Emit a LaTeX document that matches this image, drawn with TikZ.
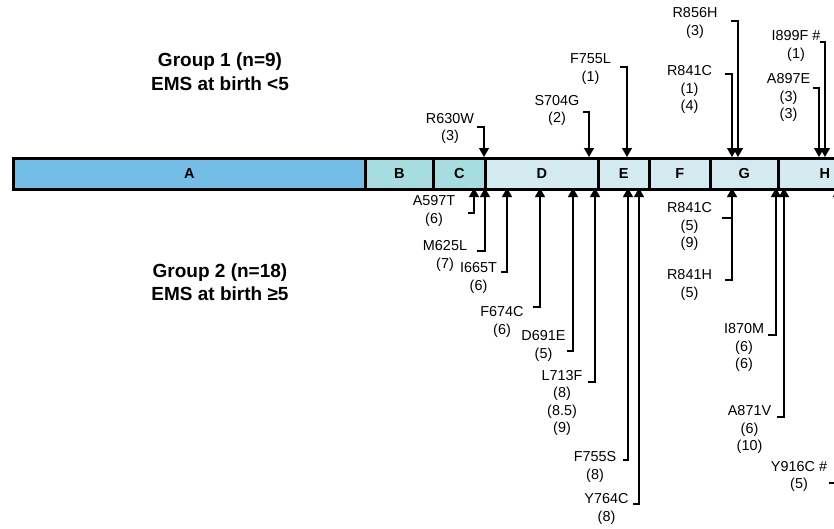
\documentclass[tikz,border=0pt]{standalone}
\usepackage{fontspec}
\setmainfont{Liberation Sans}
\usetikzlibrary{arrows.meta}
\definecolor{domA}{HTML}{74BDE6}
\definecolor{domB}{HTML}{A7DCE0}
\definecolor{domD}{HTML}{D3EBF0}
\begin{document}
\begin{tikzpicture}[x=1pt,y=-1pt,
  dom/.style={draw,line width=2.5pt,minimum height=31pt,anchor=north west,inner sep=0pt,
    font=\bfseries\fontsize{14.5}{17}\selectfont},
  mut/.style={align=center,inner sep=0pt,font=\fontsize{14.4}{17.5}\selectfont},
  grp/.style={align=center,font=\bfseries\fontsize{19}{23.5}\selectfont},
  pin/.style={line width=1.3pt,-{Triangle[length=9pt,width=10pt]}},
  tick/.style={line width=1.3pt}]
\useasboundingbox (0,0) rectangle (834,528);
\clip (0,0) rectangle (834,528);
\node[grp](g1) at (220,71.5){Group 1 (n=9)\\EMS at birth <5};
\node[grp](g2) at (220,282){Group 2 (n=18)\\EMS at birth ≥5};
\node[dom,fill=domA,minimum width=352pt](A) at (12,157){A};
\node[dom,fill=domB,minimum width=68pt](B) at (364,157){B};
\node[dom,fill=domB,minimum width=52pt](C) at (432,157){C};
\node[dom,fill=domD,minimum width=113pt](D) at (484,157){D};
\node[dom,fill=domD,minimum width=51pt](E) at (597,157){E};
\node[dom,fill=domD,minimum width=61pt](F) at (648,157){F};
\node[dom,fill=domD,minimum width=68pt](G) at (709,157){G};
\node[dom,fill=domD,minimum width=93pt](H) at (777,157){H};

\node[mut](l630) at (450,128.5){R630W\\(3)};
\coordinate (s630) at (477,127); \coordinate (t630) at (484,157);
\draw[pin] (s630) -| (t630);
\node[mut](l704) at (557,110.5){S704G\\(2)};
\coordinate (s704) at (583,112); \coordinate (t704) at (589,157);
\draw[pin] (s704) -| (t704);
\node[mut](l755l) at (590.5,69){F755L\\(1)};
\coordinate (s755l) at (620,67); \coordinate (t755l) at (627,157);
\draw[pin] (s755l) -| (t755l);
\node[mut](l856) at (695,23){R856H\\(3)};
\coordinate (s856) at (731,21); \coordinate (t856) at (738,157);
\draw[pin] (s856) -| (t856);
\node[mut](l841t) at (689.5,89.5){R841C\\(1)\\(4)};
\coordinate (s841t) at (725,74); \coordinate (t841t) at (732,157);
\draw[pin] (s841t) -| (t841t);
\node[mut](l899) at (796,46){I899F \#\\(1)};
\coordinate (s899) at (820,42); \coordinate (t899) at (825,157);
\draw[pin] (s899) -| (t899);
\node[mut](l897) at (788.5,97.5){A897E\\(3)\\(3)};
\coordinate (s897) at (813,88); \coordinate (t897) at (819,157);
\draw[pin] (s897) -| (t897);

\node[mut](l597) at (434,211){A597T\\(6)};
\coordinate (s597) at (468,213); \coordinate (t597) at (474,188);
\draw[pin] (s597) -| (t597);
\node[mut](l625) at (445,256){M625L\\(7)};
\coordinate (s625) at (477,251); \coordinate (t625) at (485,188);
\draw[pin] (s625) -| (t625);
\node[mut](l665) at (478.5,278){I665T\\(6)};
\coordinate (s665) at (501,272); \coordinate (t665) at (507,188);
\draw[pin] (s665) -| (t665);
\node[mut](l674) at (502,322){F674C\\(6)};
\coordinate (s674) at (533,307); \coordinate (t674) at (540,188);
\draw[pin] (s674) -| (t674);
\node[mut](l691) at (543.5,346){D691E\\(5)};
\coordinate (s691) at (567,351); \coordinate (t691) at (573,188);
\draw[pin] (s691) -| (t691);
\node[mut](l713) at (562,403){L713F\\(8)\\(8.5)\\(9)};
\coordinate (s713) at (588,382); \coordinate (t713) at (595,188);
\draw[pin] (s713) -| (t713);
\node[mut](l755s) at (595,467){F755S\\(8)};
\coordinate (s755s) at (623,460); \coordinate (t755s) at (628,188);
\draw[pin] (s755s) -| (t755s);
\node[mut](l764) at (606.5,509){Y764C\\(8)};
\coordinate (s764) at (633,504); \coordinate (t764) at (639,188);
\draw[pin] (s764) -| (t764);
\node[mut](l841c) at (689.5,226.5){R841C\\(5)\\(9)};
\node[mut](l841h) at (689.5,285){R841H\\(5)};
\coordinate (s841c) at (722,218); \coordinate (s841h) at (725,280); \coordinate (t841b) at (732,188);
\draw[pin] (s841h) -| (t841b);
\draw[tick] (s841c) -- (s841c -| t841b);
\node[mut](l870) at (744,347.5){I870M\\(6)\\(6)};
\coordinate (s870) at (768,335); \coordinate (t870) at (776,188);
\draw[pin] (s870) -| (t870);
\node[mut](l871) at (749.5,429.5){A871V\\(6)\\(10)};
\coordinate (s871) at (777,417); \coordinate (t871) at (784,188);
\draw[pin] (s871) -| (t871);
\node[mut](l916) at (799,476.5){Y916C \#\\(5)};
\coordinate (s916) at (829,483); \coordinate (t916) at (838,188);
\draw[pin] (s916) -| (t916);
\end{tikzpicture}
\end{document}
